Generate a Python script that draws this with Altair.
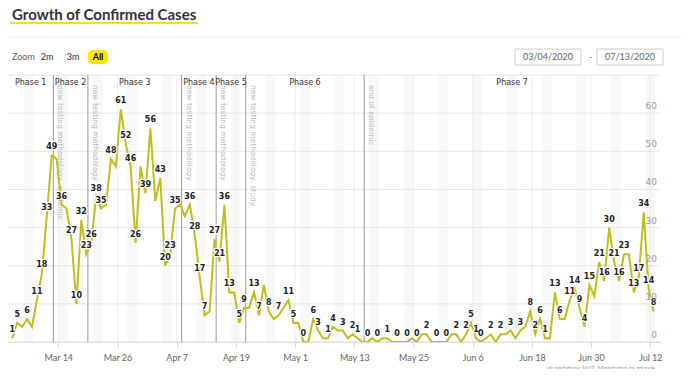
import altair as alt
import pandas as pd

# ---------------- data ----------------
start_date = "2020-03-04"
obs_hour = 16          # the source stamps each daily value late in the day
cases = [1, 5, 4, 6, 4, 11, 18, 33, 49, 48,
         36, 35, 27, 10, 32, 23, 26, 38, 35, 36,
         48, 46, 61, 52, 46, 26, 46, 39, 56, 37,
         43, 20, 23, 35, 36, 33, 36, 28, 17, 7,
         8, 27, 21, 36, 13, 13, 5, 9, 9, 13,
         7, 15, 8, 6, 7, 9, 11, 5, 5, 0,
         0, 6, 3, 1, 1, 4, 3, 3, 1, 2,
         1, 0, 0, 1, 0, 1, 1, 0, 0, 0,
         0, 1, 0, 2, 2, 0, 0, 0, 0, 2,
         2, 0, 2, 5, 1, 0, 1, 2, 0, 2,
         2, 3, 1, 3, 4, 8, 2, 6, 1, 1,
         13, 6, 6, 11, 14, 9, 4, 15, 12, 21,
         16, 30, 21, 16, 23, 23, 13, 17, 34, 14,
         8]
# indices of points whose value label is visible in the original
labeled = [0, 1, 3, 5, 6, 7, 8, 10, 12, 13, 14, 15, 16, 17, 18, 20, 22, 23, 24, 25,
           27, 28, 30, 31, 32, 33, 36, 37, 38, 39, 41, 42, 43, 44, 46, 47, 49, 50, 52,
           54, 56, 57, 59, 61, 62, 64, 65, 67, 69, 70, 72, 74, 76, 78, 80, 82, 84, 86,
           88, 90, 92, 93, 94, 95, 97, 99, 101, 103, 105, 106, 107, 108, 110, 111, 113,
           114, 115, 116, 117, 119, 120, 121, 122, 123, 124, 126, 127, 128, 129, 130]

line_dates = ["2020-03-13", "2020-03-20", "2020-04-08", "2020-04-15", "2020-04-21", "2020-05-15"]
line_notes = ["new testing methodology, epidemic", "new testing methodology", "new testing methodology",
              "new testing methodology", "new testing methodology, study", "end of epidemic"]
phase_names = ["Phase 1", "Phase 2", "Phase 3", "Phase 4", "Phase 5", "Phase 6", "Phase 7"]

x_tick_dates = ["2020-03-14", "2020-03-26", "2020-04-07", "2020-04-19", "2020-05-01", "2020-05-13",
                "2020-05-25", "2020-06-06", "2020-06-18", "2020-06-30", "2020-07-12"]
y_ticks = [0, 10, 20, 30, 40, 50, 60]
y_grid = [0, 10, 20, 30, 40, 50, 60, 70]

view_start = "2020-03-03T19:15:00"
view_end = "2020-07-13T23:20:00"

# ---------------- tables ----------------
def ms(s):
    return int(pd.Timestamp(s, tz="UTC").value // 10**6)

dates = pd.date_range(start_date, periods=len(cases), freq="D") + pd.Timedelta(hours=obs_hour)
lab = set(labeled)
df = pd.DataFrame({
    "date": dates.strftime("%Y-%m-%dT%H:%M:%SZ"),
    "cases": cases,
    "show": [i in lab for i in range(len(cases))],
})

sats = pd.date_range("2020-02-29", "2020-07-18", freq="W-SAT")
df_we = pd.DataFrame({"sat": sats.strftime("%Y-%m-%d"),
                      "mon": (sats + pd.Timedelta(days=2)).strftime("%Y-%m-%d")})

df_lines = pd.DataFrame({"date": line_dates, "note": line_notes})
df_xt = pd.DataFrame({"date": x_tick_dates})

bounds = [pd.Timestamp(view_start)] + [pd.Timestamp(d) for d in line_dates] + [pd.Timestamp(view_end)]
mids = [(bounds[i] + (bounds[i + 1] - bounds[i]) / 2).strftime("%Y-%m-%dT%H:%M:%SZ") for i in range(len(phase_names))]
df_phase = pd.DataFrame({"mid": mids, "name": phase_names})

df_grid = pd.DataFrame({"v": y_grid})
df_yt = pd.DataFrame({"v": y_ticks})

xs = alt.Scale(type="utc", domain=[ms(view_start), ms(view_end)])
ys = alt.Scale(domain=[0, 70])

LINE = "#c0bf1a"
FONT = "DejaVu Sans"

x_axis = alt.Axis(values=[ms(d) for d in x_tick_dates], format="%b %-d", title=None, grid=False,
                  labelColor="#666666", labelFontSize=9, labelFont="Lato", labelPadding=6,
                  domainColor="#ccd6eb", tickColor="#ccd6eb", tickSize=5, labelFlush=False)


def X(field):
    return alt.X(field, scale=xs, axis=x_axis)


def Y(field):
    return alt.Y(field, scale=ys, axis=None)


# ---------------- layers ----------------
weekends = alt.Chart(df_we).mark_rect(color="#f8f8f8", clip=True).encode(x=X("sat:T"), x2="mon:T")

xgrid = alt.Chart(df_xt).mark_rule(color="#ededed", strokeWidth=1).encode(x=X("date:T"))

grid = alt.Chart(df_grid).mark_rule(color="#e6e6e6", strokeWidth=1).encode(y=Y("v:Q"))

ylabels = alt.Chart(df_yt).mark_text(align="right", baseline="bottom", dx=-3, dy=-2,
                                     fontSize=9, color="#999999", font=FONT).encode(
    y=Y("v:Q"), x=alt.value(652), text="v:Q")

plines = alt.Chart(df_lines).mark_rule(color="#999999", strokeWidth=1).encode(x=X("date:T"))

notes = alt.Chart(df_lines).mark_text(angle=90, align="left", baseline="middle", dy=-7,
                                      fontSize=7.5, color="#b8b8b8", font=FONT).encode(
    x=X("date:T"), y=alt.value(10), text="note:N")

phases = alt.Chart(df_phase).mark_text(baseline="middle", fontSize=8, color="#333333", font=FONT).encode(
    x=X("mid:T"), y=alt.value(8), text="name:N")

line = alt.Chart(df).mark_line(color=LINE, strokeWidth=2, clip=True).encode(x=X("date:T"), y=Y("cases:Q"))

lbl_base = alt.Chart(df).transform_filter("datum.show")
lbl_halo = lbl_base.mark_text(dy=-8, fontSize=8, fontWeight="bold", font=FONT, color="white",
                              stroke="white", strokeWidth=2.5, strokeJoin="round").encode(
    x=X("date:T"), y=Y("cases:Q"), text="cases:Q")
lbl = lbl_base.mark_text(dy=-8, fontSize=8, fontWeight="bold", font=FONT, color="#222222").encode(
    x=X("date:T"), y=Y("cases:Q"), text="cases:Q")


# ---------------- page furniture (outside plot area) ----------------
def txt(s, x, y, **kw):
    return alt.Chart(pd.DataFrame({"t": [s]})).mark_text(**kw).encode(
        x=alt.value(x), y=alt.value(y), text="t:N")


def box(x1, x2, y1, y2, **kw):
    return alt.Chart(pd.DataFrame({"a": [0]})).mark_rect(**kw).encode(
        x=alt.value(x1), x2=alt.value(x2), y=alt.value(y1), y2=alt.value(y2))


def hline(x1, x2, y, **kw):
    return alt.Chart(pd.DataFrame({"a": [0]})).mark_rule(**kw).encode(
        x=alt.value(x1), x2=alt.value(x2), y=alt.value(y))


title = txt("Growth of Confirmed Cases", 4, -55, align="left", baseline="alphabetic",
            fontSize=15, fontWeight="bold", font="Lato", color="#333333")
underline = hline(2, 190, -52, color="#f2e01a", strokeWidth=2)
sep = hline(0, 674, -38, color="#eeeeee", strokeWidth=1)
zoom_t = txt("Zoom", 4, -18, align="left", baseline="middle", fontSize=9, font="Lato", color="#666666")
b2 = box(31, 47, -25, -11, color="#f7f7f7", cornerRadius=2)
b2t = txt("2m", 39, -18, baseline="middle", fontSize=9, font="Lato", color="#333333")
b3 = box(57, 73, -25, -11, color="#f7f7f7", cornerRadius=2)
b3t = txt("3m", 65, -18, baseline="middle", fontSize=9, font="Lato", color="#333333")
ba = box(80, 100, -25, -11, color="#ffe600", cornerRadius=4)
bat = txt("All", 90, -18, baseline="middle", fontSize=9, fontWeight="bold", font="Lato", color="#000000")
d1 = box(507, 573, -26, -10, fill="white", stroke="#cccccc", strokeWidth=1)
d1t = txt("03/04/2020", 540, -18, baseline="middle", fontSize=9, font="Lato", color="#666666")
dash = txt("-", 583, -18, baseline="middle", fontSize=9, font="Lato", color="#666666")
d2 = box(589, 655, -26, -10, fill="white", stroke="#cccccc", strokeWidth=1)
d2t = txt("07/13/2020", 622, -18, baseline="middle", fontSize=9, font="Lato", color="#666666")
credit = txt("vir podatkov: NIJZ, Ministrstvo za zdravje", 647, 295, align="right", baseline="alphabetic",
             fontSize=6, font="Lato", color="#999999")

chart = alt.layer(
    weekends, xgrid, grid, plines, notes, phases, line, lbl_halo, lbl, ylabels,
    title, underline, sep, zoom_t, b2, b2t, b3, b3t, ba, bat, d1, d1t, dash, d2, d2t, credit
).properties(
    width=652, height=267,
    padding={"left": 0, "top": 67, "right": 22, "bottom": 27},
    autosize=alt.AutoSizeParams(type="none"),
    background="white",
).configure_view(stroke=None)

chart.save("out.html", embed_options={"renderer": "svg", "actions": False})
